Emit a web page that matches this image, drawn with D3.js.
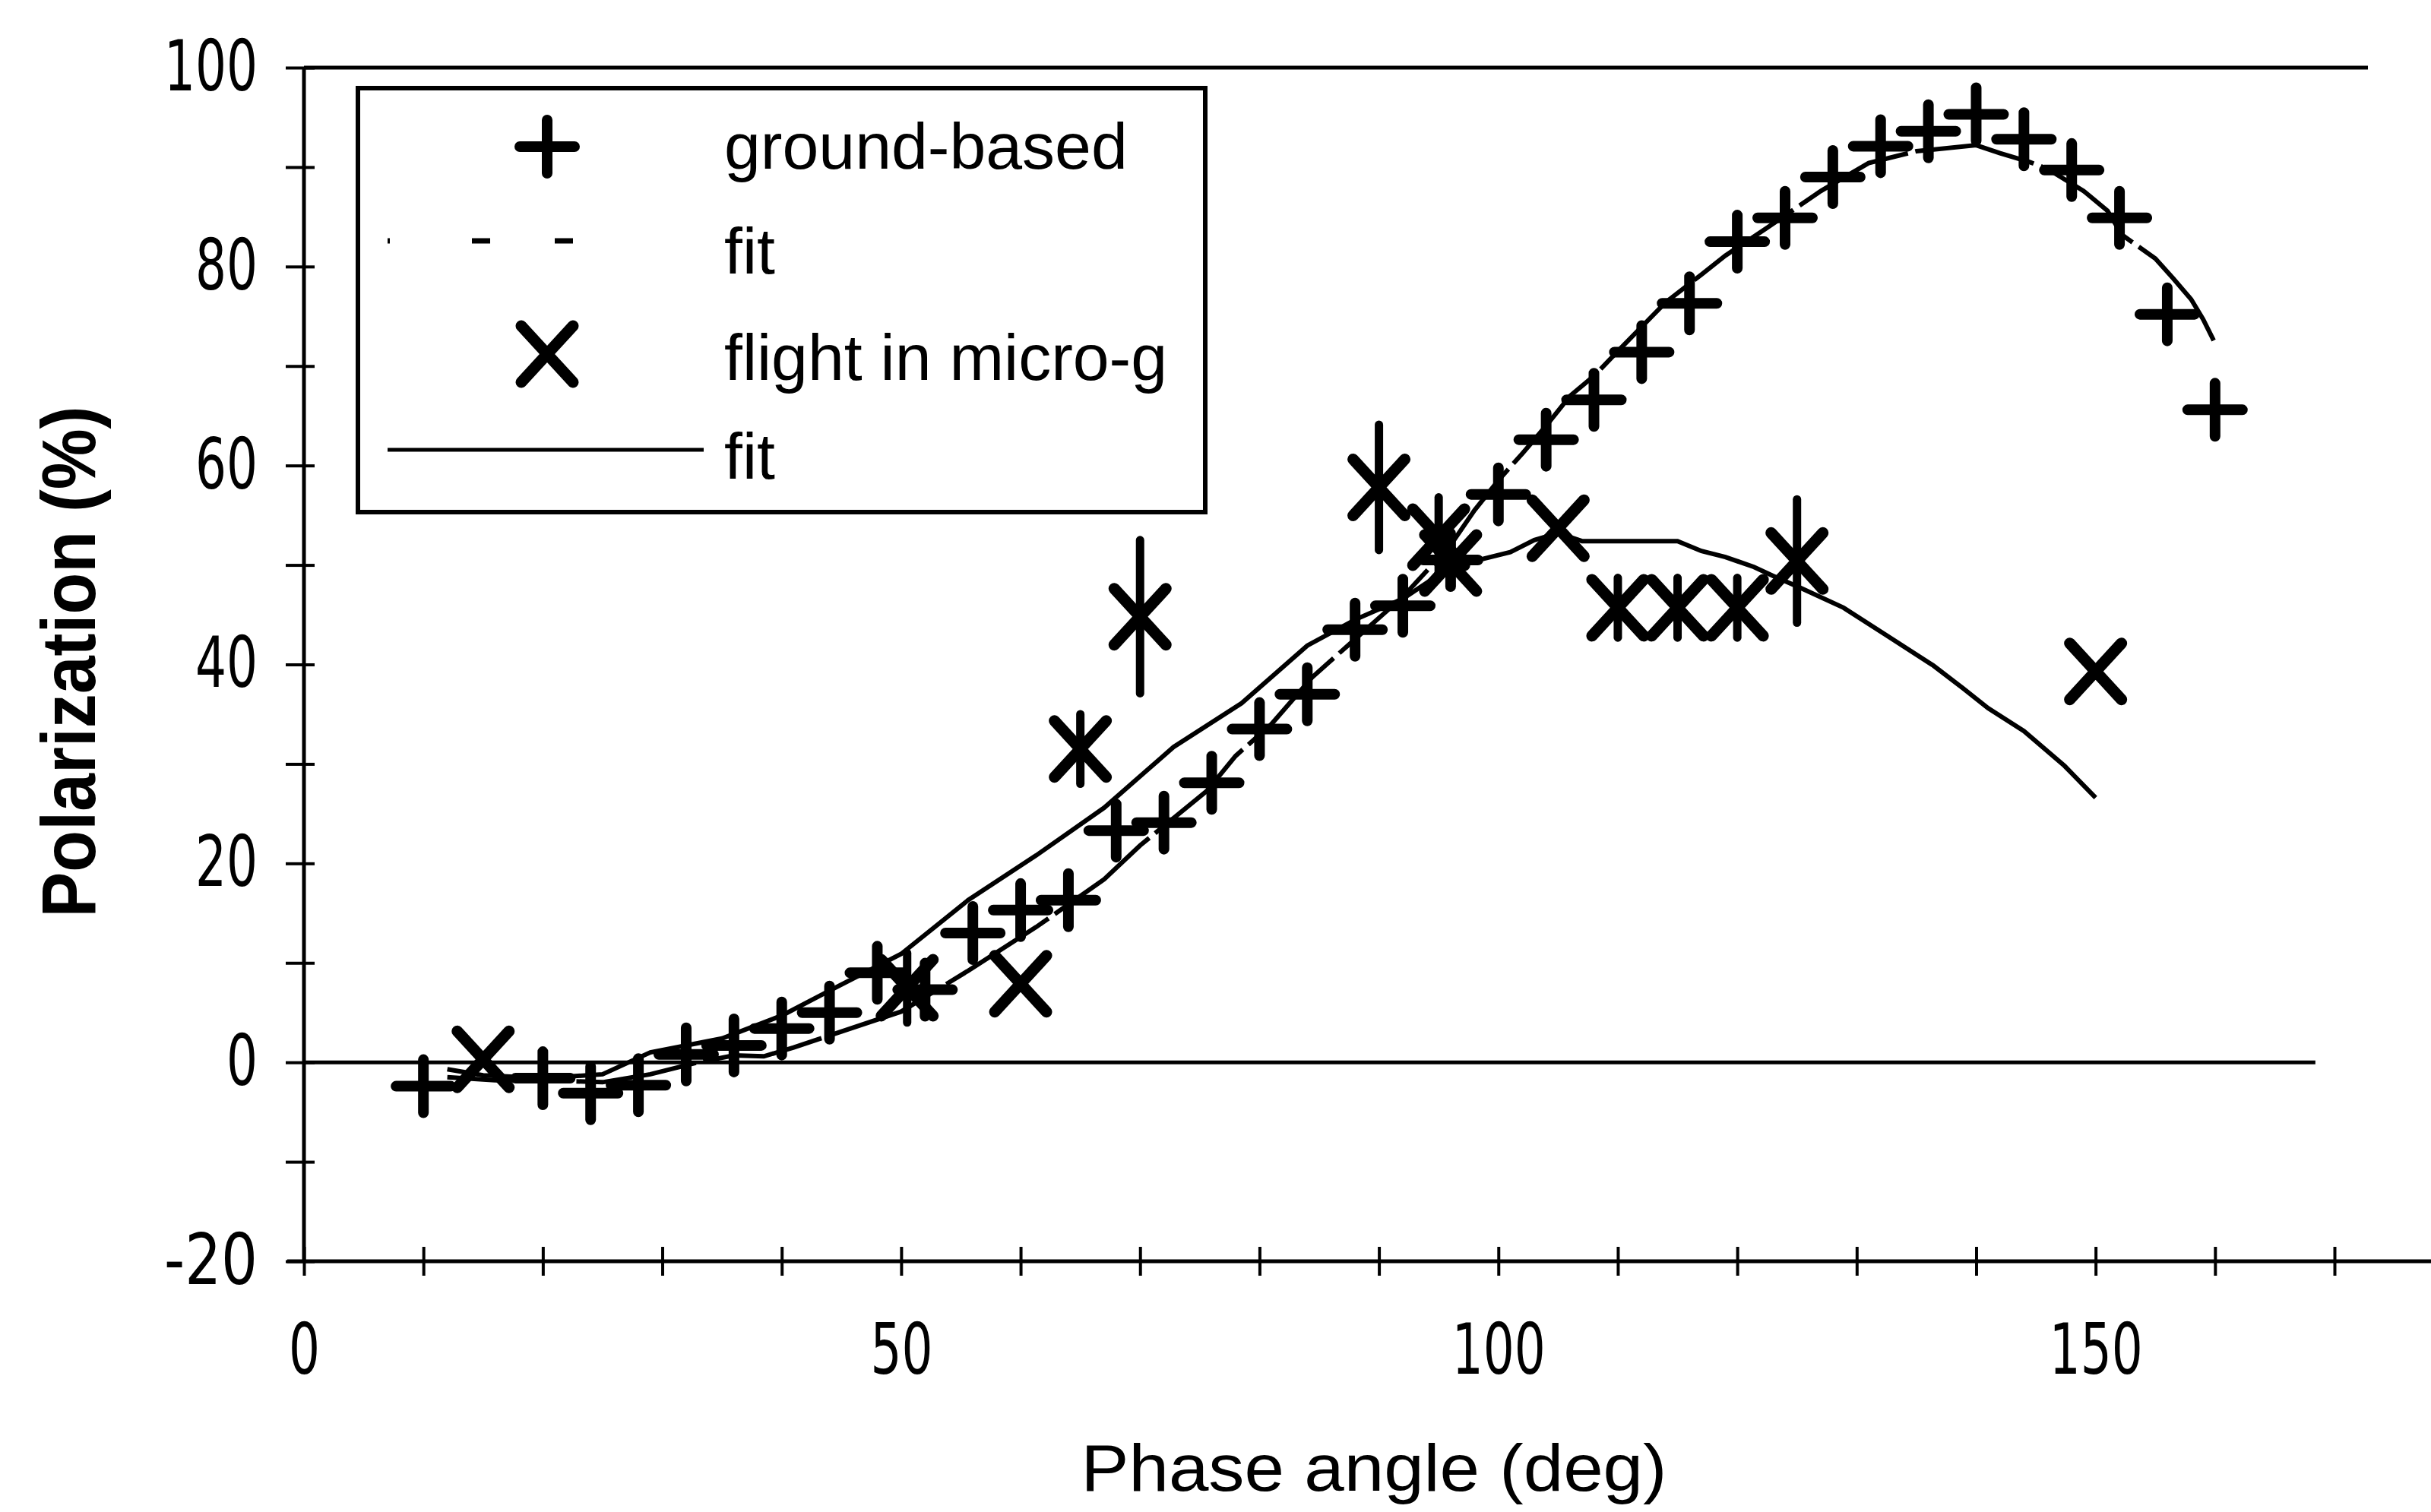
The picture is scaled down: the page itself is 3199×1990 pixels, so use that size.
<!DOCTYPE html>
<html>
<head>
<meta charset="utf-8">
<style>
  body { margin: 0; background: #fff; }
  text { fill: #000; }
</style>
</head>
<body>
<svg width="3199" height="1990"></svg>
<script src="https://d3js.org/d3.v7.min.js"></script>
<script>
  // ground-based measurements (+)
  var groundX = [10, 20, 24, 28, 32, 36, 40, 44, 48, 52, 56, 60, 64, 68, 72, 76, 80, 84, 88, 92, 96, 100,
    104, 108, 112, 116, 120, 124, 128, 132, 136, 140, 144, 148, 152, 156, 160];
  var groundY = [-2.4, -1.6, -3.1, -2.3, 0.8, 1.7, 3.4, 5.0, 9.0, 7.3, 13.0, 15.3, 16.3, 23.3, 24.1, 28.1, 33.5, 37.0, 43.5, 45.9, 50.5, 57.1,
    62.6, 66.6, 71.4, 76.3, 82.5, 84.9, 89.0, 92.1, 93.6, 95.3, 92.8, 89.7, 84.9, 75.2, 65.6];

  // flight in micro-g (x) with error bars
  var flightX = [15, 50.5, 60, 65, 70, 90, 95, 96, 105, 110, 115, 120, 125, 150];
  var flightY = [0.3, 7.5, 7.9, 31.5, 44.8, 57.8, 52.8, 50.2, 53.7, 45.7, 45.7, 45.7, 50.4, 39.3];
  var flightErr = [0, 3.5, 0, 3.5, 7.7, 6.3, 4, 0, 0, 3, 3, 3, 6.2, 0];

  // fit for the ground-based data (dashed)
  var groundFitX = [12, 16, 20, 25, 29, 33, 36, 38.5, 41, 44, 50, 55.6, 61.3, 67, 70, 75.6, 78, 81, 84.4, 87.3, 92, 96, 98, 100,
    102, 104, 106, 108, 110, 114, 117, 119, 122.5, 127, 131, 135, 140, 142, 144.5, 146, 149, 151, 152.2, 155, 156.5, 158, 159, 160];
  var groundFitY = [-1.5, -1.8, -1.8, -2.0, -1.2, 0, 0.7, 0.6, 1.5, 2.7, 5.1, 9.2, 13.6, 18.4, 21.8, 27.3, 30.8, 34.0, 38.7, 41.8, 46.8, 52.0, 55.5, 58.5,
    61.2, 64.0, 67.0, 69.0, 71.5, 76.4, 79.2, 81.1, 83.9, 87.6, 90.4, 91.6, 92.2, 91.4, 90.5, 89.8, 87.6, 85.6, 83.2, 80.8, 78.8, 76.7, 74.7, 72.3];

  // fit for the flight data (solid)
  var flightFitX = [12, 15, 20, 25, 29, 35, 40, 44, 50, 55.6, 61.3, 67, 72.8, 78.5, 84, 88, 92, 95, 98, 101, 103, 105,
    107, 115, 117, 119, 121.4, 123, 125.3, 128.9, 132.4, 136.4, 138.9, 141, 144, 147.4, 150];
  var flightFitY = [-0.7, -1.3, -1.6, -1.2, 1.0, 2.4, 4.7, 7.2, 10.9, 16.3, 20.8, 25.6, 31.7, 36.1, 41.9, 44.5, 46.6, 49.0, 50.4, 51.3, 52.5, 53.2,
    52.4, 52.4, 51.4, 50.8, 49.8, 48.9, 47.7, 45.7, 43.0, 39.9, 37.6, 35.6, 33.3, 29.8, 26.6];

  var xTickValues = d3.range(0, 171, 10);
  var yTickValues = d3.range(-20, 101, 10);
  var legendLabels = ["ground-based", "fit", "flight in micro-g", "fit"];

  var svg = d3.select("svg");

  var x = d3.scaleLinear().domain([0, 170]).range([400, 3072]);
  var y = d3.scaleLinear().domain([-20, 100]).range([1660, 89]);

  var plusPath = "M-36,0H36M0,-35V35";
  var crossPath = "M-34,-37L34,37M-34,37L34,-37";

  // axes
  var yAxis = d3.axisLeft(y).tickValues(yTickValues).tickSize(24).tickPadding(37)
    .tickFormat(function(d) { return d % 20 === 0 ? d : ""; });
  var gy = svg.append("g").attr("transform", "translate(" + x(0) + ",0)").call(yAxis);
  var gyIn = svg.append("g").attr("transform", "translate(" + x(0) + ",0)")
    .call(d3.axisRight(y).tickValues(yTickValues).tickSize(14).tickFormat(""));

  var xAxis = d3.axisBottom(x).tickValues(xTickValues).tickSize(19).tickPadding(64)
    .tickFormat(function(d) { return d % 50 === 0 ? d : ""; });
  var gx = svg.append("g").attr("transform", "translate(0," + y(-20) + ")").call(xAxis);
  var gxIn = svg.append("g").attr("transform", "translate(0," + y(-20) + ")")
    .call(d3.axisTop(x).tickValues(xTickValues).tickSize(19).tickFormat(""));

  [gy, gyIn, gx, gxIn].forEach(function(g) {
    g.select(".domain").remove();
    g.selectAll(".tick line").attr("stroke", "#000").attr("stroke-width", 4);
    g.selectAll(".tick text")
      .attr("font-family", "'Liberation Sans Narrow', 'DejaVu Sans Condensed', sans-serif")
      .attr("font-size", 92).attr("fill", "#000")
      .each(function() {
        var s = d3.select(this).text();
        if (s.length) d3.select(this).attr("textLength", s.length * 41).attr("lengthAdjust", "spacingAndGlyphs");
      });
  });

  // axis lines, zero line, top line
  svg.append("line").attr("x1", x(0)).attr("x2", x(0)).attr("y1", y(100)).attr("y2", y(-20))
    .attr("stroke", "#000").attr("stroke-width", 5);
  svg.append("line").attr("x1", x(0) - 22).attr("x2", 3199).attr("y1", y(-20)).attr("y2", y(-20))
    .attr("stroke", "#000").attr("stroke-width", 5);
  svg.append("line").attr("x1", x(0)).attr("x2", x(168.4)).attr("y1", y(0)).attr("y2", y(0))
    .attr("stroke", "#000").attr("stroke-width", 5);
  svg.append("line").attr("x1", x(0)).attr("x2", x(172.8)).attr("y1", y(100)).attr("y2", y(100))
    .attr("stroke", "#000").attr("stroke-width", 5);

  // fits
  var line = d3.line().x(function(d) { return x(d[0]); }).y(function(d) { return y(d[1]); });
  svg.append("path").datum(d3.zip(groundFitX, groundFitY)).attr("d", line)
    .attr("fill", "none").attr("stroke", "#000").attr("stroke-width", 6)
    .attr("stroke-dasharray", "160,10");
  svg.append("path").datum(d3.zip(flightFitX, flightFitY)).attr("d", line)
    .attr("fill", "none").attr("stroke", "#000").attr("stroke-width", 6);

  // error bars
  var flight = d3.zip(flightX, flightY, flightErr);
  svg.append("g").selectAll("line").data(flight.filter(function(d) { return d[2] > 0; })).enter()
    .append("line")
    .attr("x1", function(d) { return x(d[0]); }).attr("x2", function(d) { return x(d[0]); })
    .attr("y1", function(d) { return y(d[1] - d[2]); }).attr("y2", function(d) { return y(d[1] + d[2]); })
    .attr("stroke", "#000").attr("stroke-width", 11).attr("stroke-linecap", "round");

  // markers
  svg.append("g").selectAll("path").data(d3.zip(groundX, groundY)).enter().append("path")
    .attr("d", plusPath)
    .attr("transform", function(d) { return "translate(" + x(d[0]) + "," + y(d[1]) + ")"; })
    .attr("fill", "none").attr("stroke", "#000").attr("stroke-width", 14).attr("stroke-linecap", "round");
  svg.append("g").selectAll("path").data(flight).enter().append("path")
    .attr("d", crossPath)
    .attr("transform", function(d) { return "translate(" + x(d[0]) + "," + y(d[1]) + ")"; })
    .attr("fill", "none").attr("stroke", "#000").attr("stroke-width", 15).attr("stroke-linecap", "round");

  // legend
  var lg = svg.append("g");
  lg.append("rect").attr("x", 471).attr("y", 116).attr("width", 1115).attr("height", 558)
    .attr("fill", "#fff").attr("stroke", "#000").attr("stroke-width", 6);
  lg.append("path").attr("d", plusPath).attr("transform", "translate(720,193)")
    .attr("fill", "none").attr("stroke", "#000").attr("stroke-width", 14).attr("stroke-linecap", "round");
  lg.append("line").attr("x1", 510).attr("x2", 760).attr("y1", 317).attr("y2", 317)
    .attr("stroke", "#000").attr("stroke-width", 7).attr("stroke-dasharray", "3,108,24,85,24,400");
  lg.append("path").attr("d", crossPath).attr("transform", "translate(720,466)")
    .attr("fill", "none").attr("stroke", "#000").attr("stroke-width", 15).attr("stroke-linecap", "round");
  lg.append("line").attr("x1", 510).attr("x2", 926).attr("y1", 592).attr("y2", 592)
    .attr("stroke", "#000").attr("stroke-width", 5);
  var baselines = [222, 360, 500, 630];
  lg.selectAll("text.lab").data(legendLabels).enter().append("text").attr("class", "lab")
    .attr("x", 953).attr("y", function(d, i) { return baselines[i]; })
    .attr("font-family", "'Liberation Sans', Arial, sans-serif").attr("font-size", 86)
    .text(function(d) { return d; });

  // axis titles
  svg.append("text").attr("transform", "translate(125,871) rotate(-90)")
    .attr("text-anchor", "middle").attr("font-family", "'Liberation Sans', Arial, sans-serif")
    .attr("font-weight", "bold").attr("font-size", 100)
    .attr("textLength", 673).attr("lengthAdjust", "spacingAndGlyphs")
    .text("Polarization (%)");
  svg.append("text").attr("x", 1808).attr("y", 1962)
    .attr("text-anchor", "middle").attr("font-family", "'Liberation Sans', Arial, sans-serif")
    .attr("font-size", 88).attr("textLength", 771).attr("lengthAdjust", "spacingAndGlyphs")
    .text("Phase angle (deg)");
</script>
</body>
</html>
